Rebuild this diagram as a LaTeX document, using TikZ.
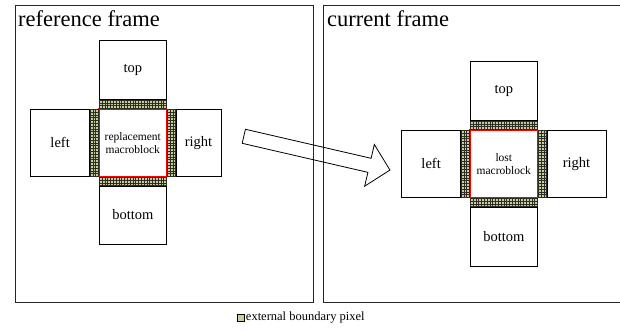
\documentclass[tikz,border=0pt]{standalone}
\usepackage{fontspec}
\setmainfont{Liberation Serif}
\usetikzlibrary{positioning}

\definecolor{pixfond}{RGB}{200,205,162}
\definecolor{pixgrille}{RGB}{45,45,35}

\tikzset{
    cadre/.style={draw=black!85, line width=0.8pt},
    titre/.style={anchor=base west, inner sep=0pt, font=\fontsize{22.5}{26}\selectfont},
    bloc/.style={draw, line width=0.8pt, fill=white, inner sep=0pt, font=\fontsize{14.5}{16}\selectfont},
    macro/.style={draw=red, line width=1.5pt, inner sep=0pt, minimum size=67.2, align=center,
        font=\fontsize{11.5}{13}\selectfont},
    bord/.style={draw=pixgrille, line width=0.4pt, fill=pixfond, inner sep=0pt, outer sep=0pt},
    bordh/.style={bord, minimum width=67.2, minimum height=8.4},
    bordv/.style={bord, minimum width=8.4, minimum height=67.2},
    grille/.style={pixgrille, line width=0.4pt},
}

\begin{document}
\begin{tikzpicture}[x=1pt,y=1pt]
    \useasboundingbox (0,0) rectangle (620,330);

    % Cadres des deux images
    \draw[cadre] (15,28) rectangle (313,325);
    \draw[cadre] (620,325) -- (323,325) -- (323,28) -- (620,28);
    \node[titre] (tref) at (18,303) {reference frame};
    \node[titre] (tcur) at (327,303) {current frame};

    % Image de reference
    \node[macro] (mbA) at (132.8,187.2) {replacement\\macroblock};
    \node[bordh, above=0pt of mbA] (bhA) {};
    \node[bordh, below=0pt of mbA] (bbA) {};
    \node[bordv, left=0pt of mbA] (bgA) {};
    \node[bordv, right=0pt of mbA] (bdA) {};
    \node[bloc, minimum width=67.2, minimum height=59, above=0pt of bhA] (topA) {top};
    \node[bloc, minimum width=67.2, minimum height=58, below=0pt of bbA] (botA) {bottom};
    \node[bloc, minimum width=59, minimum height=67.2, left=0pt of bgA] (leftA) {left};
    \node[bloc, minimum width=45, minimum height=67.2, right=0pt of bdA] (rightA) {right};

    % Image courante
    \node[macro] (mbB) at (503.8,166.2) {lost\\macroblock};
    \node[bordh, above=0pt of mbB] (bhB) {};
    \node[bordh, below=0pt of mbB] (bbB) {};
    \node[bordv, left=0pt of mbB] (bgB) {};
    \node[bordv, right=0pt of mbB] (bdB) {};
    \node[bloc, minimum width=67.2, minimum height=59, above=0pt of bhB] (topB) {top};
    \node[bloc, minimum width=67.2, minimum height=59, below=0pt of bbB] (botB) {bottom};
    \node[bloc, minimum width=59, minimum height=67.2, left=0pt of bgB] (leftB) {left};
    \node[bloc, minimum width=59, minimum height=67.2, right=0pt of bdB] (rightB) {right};

    % Pixels de bord (grilles)
    \foreach \b in {bhA,bbA,bhB,bbB}
        \draw[grille, shift={(\b.south west)}] (0,0) grid[step=2.8pt] (67.2,8.4);
    \foreach \b in {bgA,bdA,bgB,bdB}
        \draw[grille, shift={(\b.south west)}] (0,0) grid[step=2.8pt] (8.4,67.2);

    % Fleche creuse
    \draw[line width=0.8pt, shift={(243.8,193.7)}, rotate=-13]
        (0,7.2) -- (129,7.2) -- (129,21.4) -- (150,0) -- (129,-21.4) -- (129,-7.2) -- (0,-7.2) -- cycle;

    % Legende
    \node[draw, line width=0.5pt, fill=pixfond, inner sep=0pt, minimum size=7] (leg) at (241,12.5) {};
    \node[right=1pt of leg, inner sep=0pt, font=\fontsize{12.5}{14}\selectfont] (legtxt) {external boundary pixel};
\end{tikzpicture}
\end{document}
